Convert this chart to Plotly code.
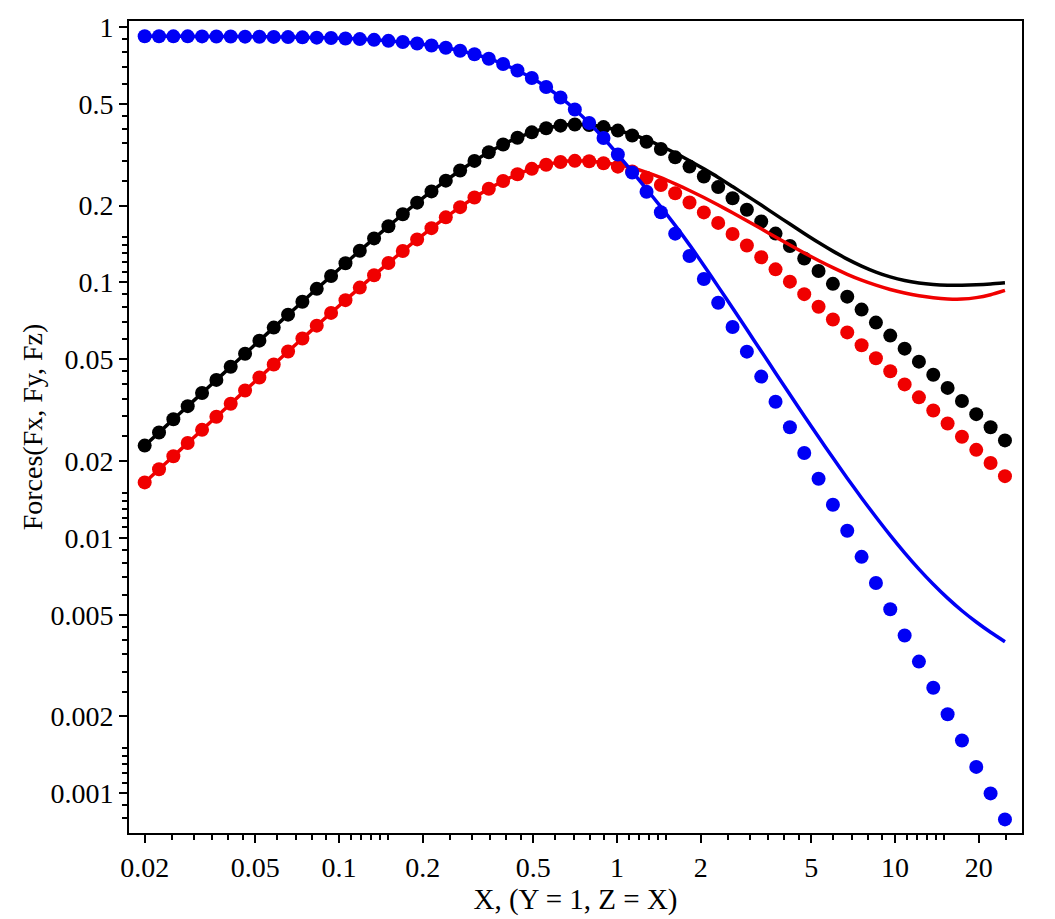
import plotly.graph_objects as go

# ---------------- data ----------------
x = [0.02, 0.02252, 0.02536, 0.02856, 0.03216, 0.03622, 0.04078, 0.04593, 0.05172, 0.05824,
     0.06558, 0.07385, 0.08317, 0.09365, 0.1055, 0.1188, 0.1337, 0.1506, 0.1696, 0.191,
     0.2151, 0.2422, 0.2727, 0.3071, 0.3458, 0.3894, 0.4385, 0.4938, 0.5561, 0.6262,
     0.7052, 0.7941, 0.8942, 1.007, 1.134, 1.277, 1.438, 1.619, 1.823, 2.053,
     2.312, 2.604, 2.932, 3.302, 3.718, 4.187, 4.715, 5.309, 5.979, 6.733,
     7.582, 8.538, 9.614, 10.83, 12.19, 13.73, 15.46, 17.41, 19.6, 22.07, 24.86]

fx_points = [0.02298, 0.02587, 0.02912, 0.03279, 0.03691, 0.04155, 0.04675, 0.05261, 0.05918, 0.06655,
             0.07480, 0.08405, 0.09440, 0.1059, 0.1188, 0.1330, 0.1487, 0.1660, 0.1848, 0.2053,
             0.2272, 0.2503, 0.2744, 0.2990, 0.3234, 0.3468, 0.3683, 0.3868, 0.4013, 0.4108,
             0.4149, 0.4130, 0.4056, 0.3930, 0.3759, 0.3554, 0.3327, 0.3087, 0.2841, 0.2597,
             0.2361, 0.2136, 0.1926, 0.1732, 0.1553, 0.1389, 0.1241, 0.1108, 0.09873, 0.08796,
             0.07827, 0.06964, 0.06194, 0.05506, 0.04897, 0.04351, 0.03866, 0.03434, 0.03051, 0.02711, 0.02408]

fx_line = [0.02298, 0.02587, 0.02912, 0.03279, 0.03691, 0.04155, 0.04675, 0.05261, 0.05918, 0.06655,
           0.07480, 0.08405, 0.09440, 0.1059, 0.1188, 0.1330, 0.1487, 0.1660, 0.1848, 0.2053,
           0.2272, 0.2503, 0.2744, 0.2990, 0.3234, 0.3468, 0.3683, 0.3868, 0.4013, 0.4108,
           0.4149, 0.4130, 0.4056, 0.3935, 0.3794, 0.3620, 0.3420, 0.3210, 0.2996, 0.2783,
           0.2577, 0.2374, 0.2185, 0.2008, 0.1843, 0.1692, 0.1555, 0.1433, 0.1326, 0.1234,
           0.1159, 0.1098, 0.1051, 0.1017, 0.09954, 0.09822, 0.09759, 0.09750, 0.09786, 0.09863, 0.09972]

fy_points = [0.01649, 0.01856, 0.02089, 0.02352, 0.02648, 0.02981, 0.03353, 0.03774, 0.04245, 0.04774,
             0.05366, 0.06030, 0.06773, 0.07599, 0.08524, 0.09545, 0.1067, 0.1191, 0.1327, 0.1474,
             0.1631, 0.1798, 0.1971, 0.2149, 0.2325, 0.2494, 0.2650, 0.2784, 0.2890, 0.2961,
             0.2991, 0.2980, 0.2929, 0.2839, 0.2717, 0.2570, 0.2407, 0.2234, 0.2056, 0.1880,
             0.1710, 0.1547, 0.1395, 0.1255, 0.1125, 0.1007, 0.08996, 0.08027, 0.07156, 0.06375,
             0.05676, 0.05049, 0.04491, 0.03990, 0.03550, 0.03153, 0.02803, 0.02490, 0.02212, 0.01965, 0.01745]

fy_line = [0.01649, 0.01856, 0.02089, 0.02352, 0.02648, 0.02981, 0.03353, 0.03774, 0.04245, 0.04774,
           0.05366, 0.06030, 0.06773, 0.07599, 0.08524, 0.09545, 0.1067, 0.1191, 0.1327, 0.1474,
           0.1631, 0.1798, 0.1971, 0.2149, 0.2325, 0.2494, 0.2650, 0.2784, 0.2890, 0.2961,
           0.2991, 0.2980, 0.2942, 0.2885, 0.2806, 0.2697, 0.2573, 0.2433, 0.2291, 0.2149,
           0.2009, 0.1873, 0.1743, 0.1621, 0.1506, 0.1401, 0.1304, 0.1218, 0.1142, 0.1076,
           0.1021, 0.09757, 0.09386, 0.09093, 0.08870, 0.08712, 0.08620, 0.08610, 0.08720, 0.08954, 0.09311]

fz_points = [0.9193, 0.9191, 0.9189, 0.9186, 0.9182, 0.9177, 0.9171, 0.9164, 0.9154, 0.9142,
             0.9126, 0.9107, 0.9082, 0.9051, 0.9011, 0.8962, 0.8901, 0.8824, 0.8728, 0.8610,
             0.8464, 0.8286, 0.8072, 0.7815, 0.7511, 0.7160, 0.6757, 0.6309, 0.5818, 0.5296,
             0.4755, 0.4209, 0.3675, 0.3166, 0.2692, 0.2263, 0.1882, 0.1552, 0.1269, 0.1031,
             0.0833, 0.0669, 0.0536, 0.0428, 0.0341, 0.0271, 0.0215, 0.01704, 0.01349, 0.01067,
             0.00843, 0.00666, 0.00526, 0.00415, 0.00328, 0.00259, 0.00204, 0.00161, 0.00127, 0.00100, 0.000791]

fz_line = [0.9193, 0.9191, 0.9189, 0.9186, 0.9182, 0.9177, 0.9171, 0.9164, 0.9154, 0.9142,
           0.9126, 0.9107, 0.9082, 0.9051, 0.9011, 0.8962, 0.8901, 0.8824, 0.8728, 0.8610,
           0.8464, 0.8286, 0.8072, 0.7815, 0.7511, 0.7160, 0.6757, 0.6309, 0.5818, 0.5296,
           0.4755, 0.4209, 0.3675, 0.3166, 0.2713, 0.2319, 0.1975, 0.1672, 0.1403, 0.1165,
           0.0963, 0.07943, 0.06538, 0.05379, 0.04424, 0.03641, 0.03003, 0.02482, 0.02058, 0.01713,
           0.01434, 0.01207, 0.01023, 0.008745, 0.007553, 0.006588, 0.005812, 0.005186, 0.004687, 0.004273, 0.003925]

x_ticks = [0.02, 0.05, 0.1, 0.2, 0.5, 1, 2, 5, 10, 20]
x_tick_labels = ["0.02", "0.05", "0.1", "0.2", "0.5", "1", "2", "5", "10", "20"]
x_minor = [0.025, 0.03, 0.035, 0.04, 0.045, 0.06, 0.07, 0.08, 0.09,
           0.11, 0.12, 0.13, 0.14, 0.15, 0.25, 0.3, 0.35, 0.4, 0.45,
           0.6, 0.7, 0.8, 0.9, 1.1, 1.2, 1.3, 1.4, 1.5, 2.5, 3, 3.5, 4, 4.5,
           6, 7, 8, 9, 11, 12, 13, 14, 15, 25]

y_ticks = [0.001, 0.002, 0.005, 0.01, 0.02, 0.05, 0.1, 0.2, 0.5, 1]
y_tick_labels = ["0.001", "0.002", "0.005", "0.01", "0.02", "0.05", "0.1", "0.2", "0.5", "1"]
y_minor = [0.0008, 0.0009, 0.0011, 0.0012, 0.0013, 0.0014, 0.0015,
           0.0025, 0.003, 0.0035, 0.004, 0.0045, 0.006, 0.007, 0.008, 0.009,
           0.011, 0.012, 0.013, 0.014, 0.015, 0.025, 0.03, 0.035, 0.04, 0.045,
           0.06, 0.07, 0.08, 0.09, 0.11, 0.12, 0.13, 0.14, 0.15,
           0.25, 0.3, 0.35, 0.4, 0.45, 0.6, 0.7, 0.8, 0.9]

# ---------------- figure ----------------
BLACK = "#000000"
RED = "#f00000"
BLUE = "#0000f5"
MS = 14
LW = 3.5

fig = go.Figure()
series = [
    (fx_points, fx_line, BLACK, "Fx"),
    (fy_points, fy_line, RED, "Fy"),
    (fz_points, fz_line, BLUE, "Fz"),
]
for pts, ln, col, name in series:
    fig.add_trace(go.Scatter(x=x, y=pts, mode="markers", name=name + " points",
                             marker=dict(symbol="circle", size=MS, color=col, line=dict(width=0))))
    fig.add_trace(go.Scatter(x=x, y=ln, mode="lines", name=name,
                             line=dict(color=col, width=LW, shape="spline", smoothing=0.6)))

font_family = "Liberation Serif, DejaVu Serif, serif"
FS = 28
axis_common = dict(
    type="log", showgrid=False, zeroline=False,
    showline=True, linecolor="black", linewidth=2, mirror=True,
    ticks="outside", ticklen=8, tickwidth=2, tickcolor="black",
    tickfont=dict(family=font_family, size=FS, color="black"),
)

fig.update_layout(
    width=1055, height=919,
    margin=dict(l=129, r=33, t=14, b=85),
    paper_bgcolor="white", plot_bgcolor="white",
    showlegend=False,
    font=dict(family=font_family, size=FS, color="black"),
    xaxis=dict(
        **axis_common,
        range=[-1.7554, 1.4568],
        tickmode="array", tickvals=x_ticks, ticktext=x_tick_labels,
        minor=dict(tickmode="array", tickvals=x_minor, ticks="outside",
                   ticklen=5, tickwidth=1.5, tickcolor="black", showgrid=False),
        title=dict(text="X, (Y = 1, Z = X)", font=dict(family=font_family, size=29), standoff=4),
    ),
    yaxis=dict(
        **axis_common,
        range=[-3.155, 0.0233],
        tickmode="array", tickvals=y_ticks, ticktext=y_tick_labels,
        minor=dict(tickmode="array", tickvals=y_minor, ticks="outside",
                   ticklen=5, tickwidth=1.5, tickcolor="black", showgrid=False),
        title=dict(text="Forces(Fx, Fy, Fz)", font=dict(family=font_family, size=FS), standoff=0),
    ),
)

fig.write_html("out.html")
